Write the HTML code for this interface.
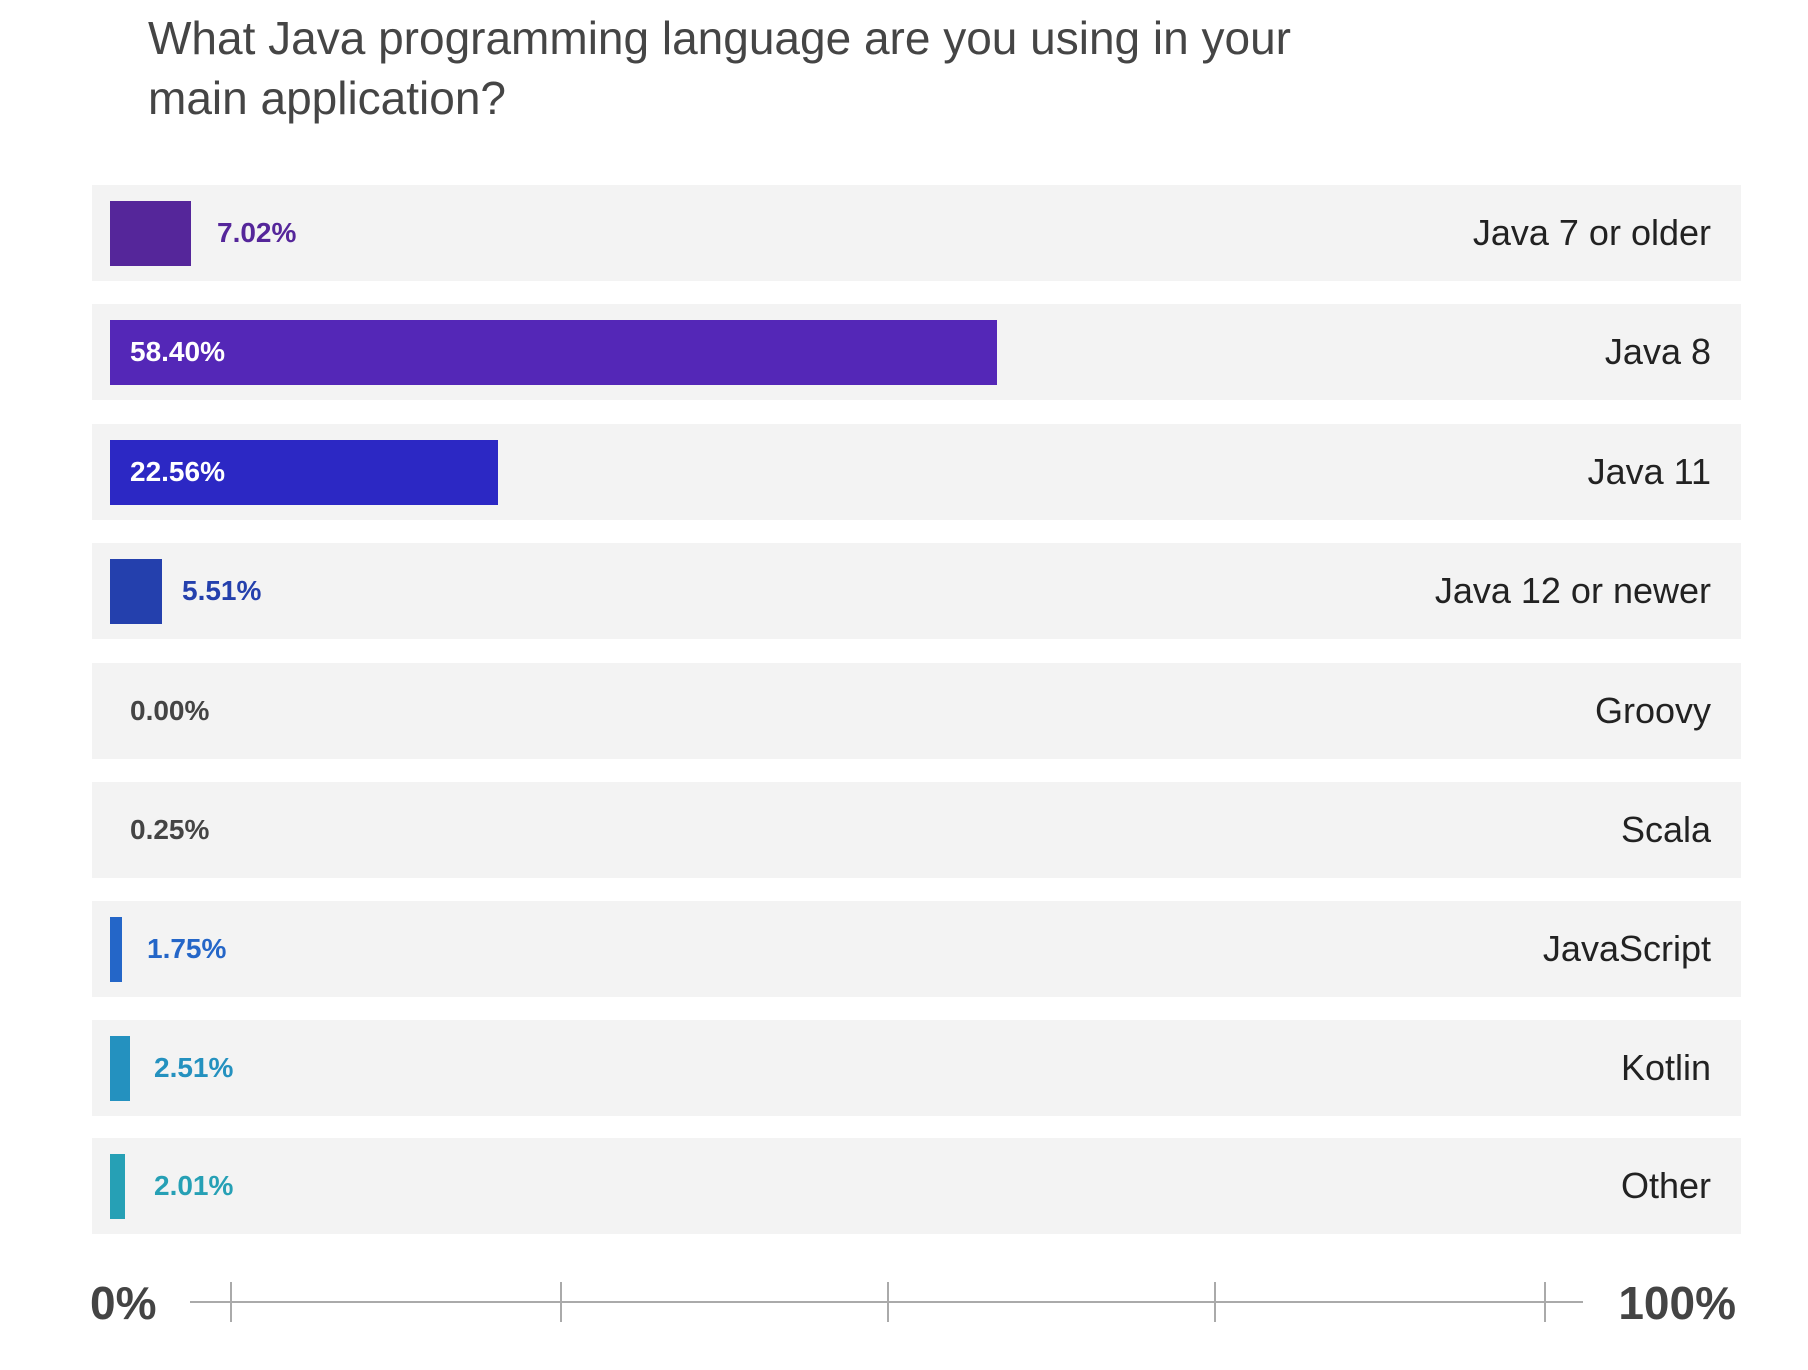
<!DOCTYPE html>
<html><head><style>
body{margin:0;width:1808px;height:1370px;background:#fff;font-family:"Liberation Sans",sans-serif;position:relative;overflow:hidden}
.t{position:absolute;left:148px;top:8px;font-size:46px;line-height:60px;color:#454545}
.row{position:absolute;left:92px;width:1649px;height:96px;background:#f3f3f3}
.bar{position:absolute;left:18px;top:16px;height:65px}
.v{position:absolute;top:30px;font-size:28px;font-weight:bold;line-height:36px}
.l{position:absolute;right:30px;top:28px;font-size:36px;color:#222;line-height:40px}
.ax{position:absolute;font-size:46px;font-weight:bold;color:#444;top:1276px}
.tk{position:absolute;top:1282px;width:2px;height:40px;background:#aaa}
</style></head><body>
<div class="t">What Java programming language are you using in your<br>main application?</div>

<div class="row" style="top:185px"><div class="bar" style="width:81px;background:#55269a"></div><div class="v" style="left:125px;color:#55269a">7.02%</div><div class="l">Java 7 or older</div></div>
<div class="row" style="top:304px"><div class="bar" style="width:887px;background:#5427b7"></div><div class="v" style="left:38px;color:#fff">58.40%</div><div class="l">Java 8</div></div>
<div class="row" style="top:424px"><div class="bar" style="width:388px;background:#2c28c4"></div><div class="v" style="left:38px;color:#fff">22.56%</div><div class="l">Java 11</div></div>
<div class="row" style="top:543px"><div class="bar" style="width:52px;background:#2440ad"></div><div class="v" style="left:90px;color:#2440ad">5.51%</div><div class="l">Java 12 or newer</div></div>
<div class="row" style="top:663px"><div class="v" style="left:38px;color:#444">0.00%</div><div class="l">Groovy</div></div>
<div class="row" style="top:782px"><div class="v" style="left:38px;color:#444">0.25%</div><div class="l">Scala</div></div>
<div class="row" style="top:901px"><div class="bar" style="width:12px;background:#2466c8"></div><div class="v" style="left:55px;color:#2466c8">1.75%</div><div class="l">JavaScript</div></div>
<div class="row" style="top:1020px"><div class="bar" style="width:20px;background:#2491bf"></div><div class="v" style="left:62px;color:#2491bf">2.51%</div><div class="l">Kotlin</div></div>
<div class="row" style="top:1138px"><div class="bar" style="width:15px;background:#26a0b5"></div><div class="v" style="left:62px;color:#26a0b5">2.01%</div><div class="l">Other</div></div>

<div class="ax" style="left:90px">0%</div>
<div class="ax" style="right:72px">100%</div>
<div style="position:absolute;left:190px;top:1301px;width:1393px;height:2px;background:#aaa"></div>
<div class="tk" style="left:230px"></div><div class="tk" style="left:560px"></div><div class="tk" style="left:887px"></div><div class="tk" style="left:1214px"></div><div class="tk" style="left:1544px"></div>
</body></html>
